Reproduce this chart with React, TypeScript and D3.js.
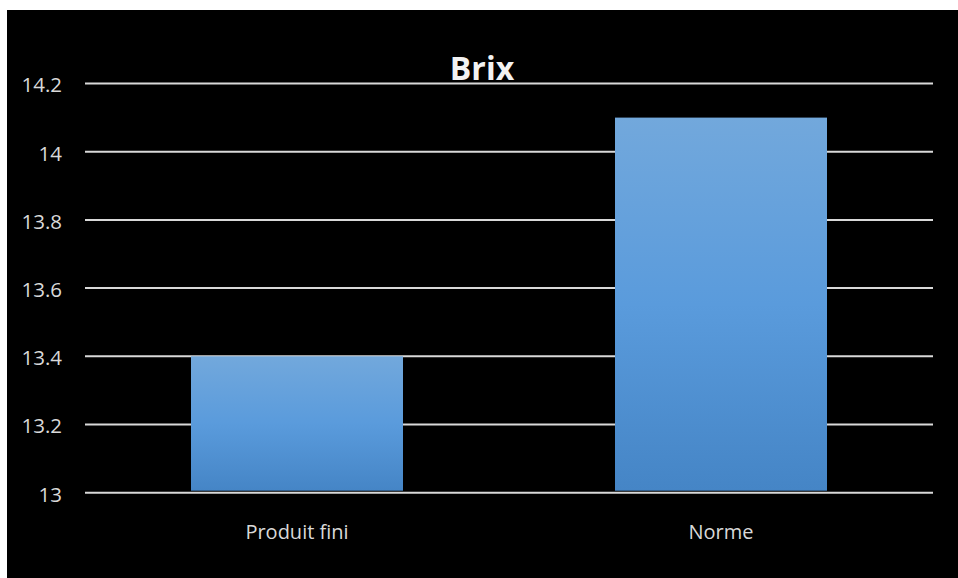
import React from "react";
import * as d3 from "d3";

const categories: string[] = ["Produit fini", "Norme"];
const values: number[] = [13.4, 14.1];
const yTicks: number[] = [13, 13.2, 13.4, 13.6, 13.8, 14, 14.2];
const title = "Brix";

export default function App() {
  const W = 958;
  const H = 578;
  const left = 85;
  const right = 933;
  const top = 83.5;
  const bottom = 492.7;

  const x = d3.scaleBand<string>().domain(categories).range([left, right]).paddingInner(0.5).paddingOuter(0.25);
  const y = d3.scaleLinear().domain([13, 14.2]).range([bottom, top]);
  const fmt = (d: number) => String(+d.toFixed(1));
  const font = "'Open Sans', sans-serif";

  return (
    <svg width={W} height={H} style={{ position: "absolute", left: 0, top: 0, background: "#fff" }}>
      <defs>
        <linearGradient id="barGrad" x1="0" y1="0" x2="0" y2="1">
          <stop offset="0%" stopColor="#72a8dc" />
          <stop offset="50%" stopColor="#5a9bdc" />
          <stop offset="100%" stopColor="#4585c6" />
        </linearGradient>
      </defs>
      <rect x={7} y={10} width={W - 7} height={H - 10} fill="#000" />
      {yTicks.map((t) => (
        <g key={t}>
          <line x1={left} x2={right} y1={y(t)} y2={y(t)} stroke="#d9d9d9" strokeWidth={2} />
          <text x={62} y={y(t)} dy="0.43em" textAnchor="end" fill="#d9d9d9" fontFamily={font} fontSize={20.5}>
            {fmt(t)}
          </text>
        </g>
      ))}
      {categories.map((c, i) => (
        <rect
          key={c}
          x={x(c)}
          width={x.bandwidth()}
          y={y(values[i])}
          height={y(13) - 2 - y(values[i])}
          fill="url(#barGrad)"
        />
      ))}
      {categories.map((c) => (
        <text key={c} x={(x(c) as number) + x.bandwidth() / 2} y={539} textAnchor="middle" fill="#d9d9d9" fontFamily={font} fontSize={20}>
          {c}
        </text>
      ))}
      <text x={482} y={80} textAnchor="middle" fill="#f2f2f2" fontFamily={font} fontWeight="bold" fontSize={32}>
        {title}
      </text>
    </svg>
  );
}
